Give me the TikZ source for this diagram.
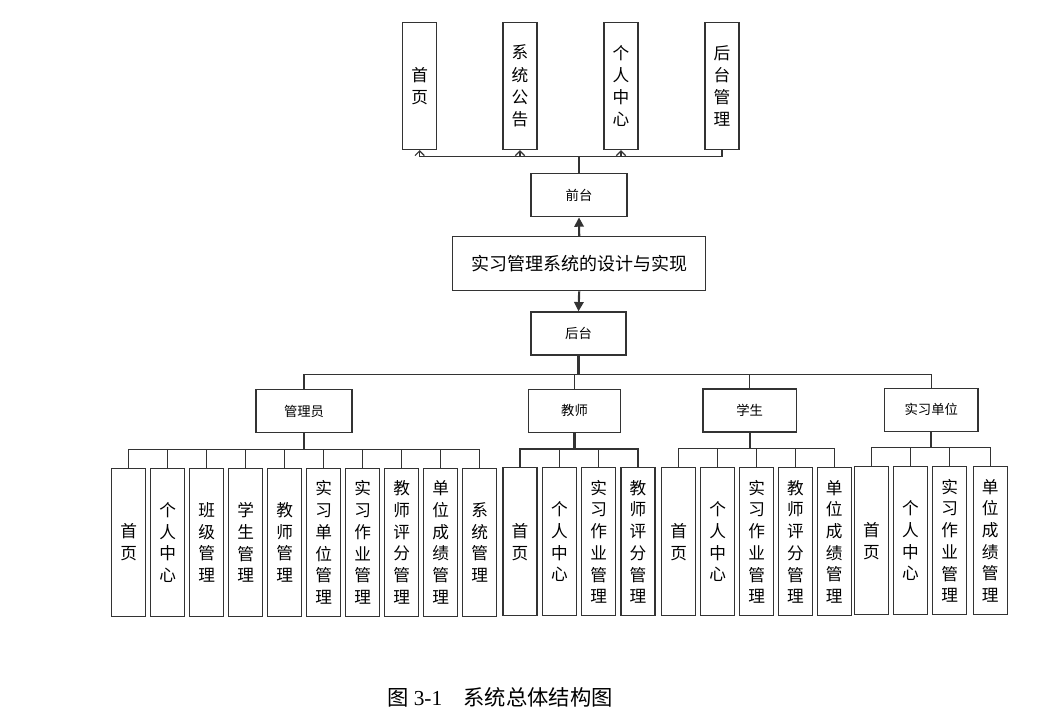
\documentclass[tikz,border=0pt]{standalone}
\usepackage{fontspec}
\setmainfont{Liberation Serif}
\newfontfamily\cjk{Noto Sans CJK SC}
\usepackage{tikz}
\usetikzlibrary{arrows.meta}

\begin{document}
\begin{tikzpicture}[x=0.75pt,y=0.75pt,yscale=-1,xscale=1,
  box/.style={draw=black!80, line width=0.9pt, fill=white, inner sep=0pt, align=center, font=\cjk\fontsize{10}{11}\selectfont},
  leaf/.style={box, minimum width=25.5pt, minimum height=111pt, font=\cjk\fontsize{12.5}{16.3}\selectfont},
  topleaf/.style={leaf, minimum height=95.25pt, font=\cjk\fontsize{12.5}{16.7}\selectfont},
  role/.style={box, minimum width=70pt, minimum height=32.25pt},
  link/.style={draw=black!80, line width=0.9pt},
  trunk/.style={link, line width=1.6pt},
  open/.style={-{Straight Barb[length=3.5pt,width=7pt]}},
  solid/.style={-{Triangle[length=7pt,width=7pt]}},
]
\useasboundingbox (0,0) rectangle (1049,723);

% Text Node
\node[box, minimum width=189.75pt, minimum height=40.5pt, font=\cjk\fontsize{13.5}{15}\selectfont] (main) at (579.2,263.8) {实习管理系统的设计与实现};
\node[role, minimum width=72pt] (qt) at (579,195.3) {前台};
\node[role, minimum width=71.25pt] (ht) at (578.5,333.5) {后台};

% front pages
\node[topleaf] (t1) at (419.7,86) {首\\页};
\node[topleaf] (t2) at (520,86) {系\\统\\公\\告};
\node[topleaf] (t3) at (621,86) {个\\人\\中\\心};
\node[topleaf] (t4) at (722,86) {后\\台\\管\\理};

% roles
\node[role, minimum width=72pt] (r1) at (304,411.3) {管理员};
\node[role, minimum width=69pt] (r2) at (574.5,410.8) {教师};
\node[role] (r3) at (749.7,410.5) {学生};
\node[role] (r4) at (931.3,409.7) {实习单位};

% admin
\node[leaf] (a1) at (128.7,542.5) {首\\页};
\node[leaf] (a2) at (167.7,542.5) {个\\人\\中\\心};
\node[leaf] (a3) at (206.7,542.5) {班\\级\\管\\理};
\node[leaf] (a4) at (245.7,542.5) {学\\生\\管\\理};
\node[leaf] (a5) at (284.7,542.5) {教\\师\\管\\理};
\node[leaf] (a6) at (323.7,542.5) {实\\习\\单\\位\\管\\理};
\node[leaf] (a7) at (362.7,542.5) {实\\习\\作\\业\\管\\理};
\node[leaf] (a8) at (401.7,542.5) {教\\师\\评\\分\\管\\理};
\node[leaf] (a9) at (440.7,542.5) {单\\位\\成\\绩\\管\\理};
\node[leaf] (a10) at (479.7,542.5) {系\\统\\管\\理};

% teacher
\node[leaf] (b1) at (520,541.8) {首\\页};
\node[leaf] (b2) at (559.4,541.8) {个\\人\\中\\心};
\node[leaf] (b3) at (598.7,541.8) {实\\习\\作\\业\\管\\理};
\node[leaf] (b4) at (638,541.8) {教\\师\\评\\分\\管\\理};

% student
\node[leaf] (c1) at (678.8,541.8) {首\\页};
\node[leaf] (c2) at (717.8,541.8) {个\\人\\中\\心};
\node[leaf] (c3) at (756.8,541.8) {实\\习\\作\\业\\管\\理};
\node[leaf] (c4) at (795.5,541.8) {教\\师\\评\\分\\管\\理};
\node[leaf] (c5) at (834.3,541.8) {单\\位\\成\\绩\\管\\理};

% company
\node[leaf] (d1) at (871.5,540.8) {首\\页};
\node[leaf] (d2) at (910.5,540.8) {个\\人\\中\\心};
\node[leaf] (d3) at (949.6,540.8) {实\\习\\作\\业\\管\\理};
\node[leaf] (d4) at (990.3,540.8) {单\\位\\成\\绩\\管\\理};

%Straight Lines
\draw[trunk, solid] (main.north) -- (qt.south);
\draw[trunk, solid] (main.south) -- (ht.north);
\draw[trunk] (qt.north) -- ++(0,-17) coordinate (qbar);
\draw[link, open] (qbar) -| (t1.south);
\draw[link, open] (qbar) -| (t2.south);
\draw[link, open] (qbar) -| (t3.south);
\draw[link] (qbar) -| (t4.south);

\draw[trunk] (ht.south) -- ++(0,19) coordinate (hbar);
\draw[link] (hbar) -| (r1.north) (hbar) -| (r2.north) (hbar) -| (r3.north) (hbar) -| (r4.north);

\draw[trunk] (r1.south) -- ++(0,16.3) coordinate (abar);
\draw[link] (abar) -| (a1.north) (abar) -| (a2.north) (abar) -| (a3.north) (abar) -| (a4.north) (abar) -| (a5.north)
  (abar) -| (a6.north) (abar) -| (a7.north) (abar) -| (a8.north) (abar) -| (a9.north) (abar) -| (a10.north);
\draw[trunk] (r2.south) -- ++(0,16) coordinate (bbar);
\draw[link] (bbar) -| (b1.north) (bbar) -| (b2.north) (bbar) -| (b3.north) (bbar) -| (b4.north);
\draw[trunk] (r3.south) -- ++(0,16) coordinate (cbar);
\draw[link] (cbar) -| (c1.north) (cbar) -| (c2.north) (cbar) -| (c3.north) (cbar) -| (c4.north) (cbar) -| (c5.north);
\draw[trunk] (r4.south) -- ++(0,16) coordinate (dbar);
\draw[link] (dbar) -| (d1.north) (dbar) -| (d2.north) (dbar) -| (d3.north) (dbar) -| (d4.north);

% Text Node
\node[font=\fontsize{16}{18}\selectfont] (cap) at (500,697) {{\cjk 图} 3-1\quad{\cjk 系统总体结构图}};
\end{tikzpicture}
\end{document}
